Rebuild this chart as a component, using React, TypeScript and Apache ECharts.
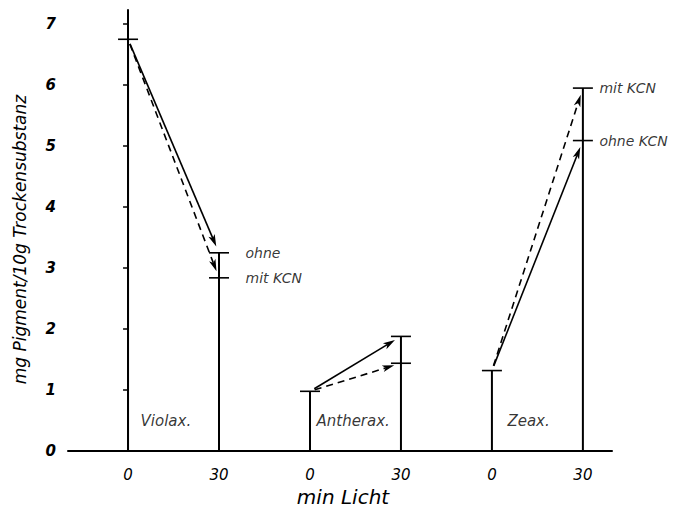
import React, { useEffect, useRef } from "react";
import * as echarts from "echarts";

// x slots: Violax 0/30, Antherax 0/30, Zeax 0/30
const timeLabels = ["0", "30", "0", "30", "0", "30"];
const pigments = ["Violax.", "Antherax.", "Zeax."];
const startValues = [6.75, 0.98, 1.32]; // 0 min Licht
const ohneValues = [3.25, 1.88, 5.09]; // 30 min, ohne KCN (solid arrow)
const kcnValues = [2.84, 1.44, 5.95]; // 30 min, mit KCN (dashed arrow)
const ohneLabels = ["ohne", "", "ohne KCN"];
const kcnLabels = ["mit KCN", "", "mit KCN"];
const yTicks = [0, 1, 2, 3, 4, 5, 6, 7];
const xSlots = [0, 1, 2, 3, 4, 5];

const INK = "#000";
const FONT = "DejaVu Sans";

export default function App() {
  const ref = useRef<HTMLDivElement>(null);

  useEffect(() => {
    if (!ref.current) return;
    const chart = echarts.init(ref.current, null, { renderer: "svg" });

    const stems: number[][] = [];
    const caps: number[][] = [];
    const arrows: number[][] = [];
    pigments.forEach((_, i) => {
      const x0 = 2 * i;
      const x1 = 2 * i + 1;
      stems.push([x0, startValues[i]]);
      stems.push([x1, Math.max(ohneValues[i], kcnValues[i])]);
      caps.push([x0, startValues[i]]);
      caps.push([x1, ohneValues[i]]);
      caps.push([x1, kcnValues[i]]);
      arrows.push([x0, startValues[i], x1, ohneValues[i], 0]);
      arrows.push([x0, startValues[i], x1, kcnValues[i], 1]);
    });

    const nameDist = [12, 6, 15];
    const pigmentLabelData = pigments.map((p, i) => ({
      value: [2 * i, 0.5],
      label: { formatter: p, distance: nameDist[i] },
    }));

    const capLabelDist = [26, 0, 16];
    const capLabelData: any[] = [];
    pigments.forEach((_, i) => {
      if (ohneLabels[i]) {
        capLabelData.push({
          value: [2 * i + 1, ohneValues[i]],
          label: { formatter: ohneLabels[i], distance: capLabelDist[i] },
        });
      }
      if (kcnLabels[i]) {
        capLabelData.push({
          value: [2 * i + 1, kcnValues[i]],
          label: { formatter: kcnLabels[i], distance: capLabelDist[i] },
        });
      }
    });

    const textStyle = {
      fontFamily: FONT,
      fontStyle: "italic" as const,
      color: INK,
    };

    chart.setOption({
      animation: false,
      backgroundColor: "#fff",
      grid: { left: 68, right: 80, top: 10, bottom: 59 },
      xAxis: {
        type: "value",
        min: -0.66,
        max: 5.32,
        name: "min Licht",
        nameLocation: "middle",
        nameGap: 32,
        nameTextStyle: { ...textStyle, fontSize: 20, padding: [0, 0, 0, 6] },
        axisLine: { show: true, lineStyle: { color: INK, width: 2 } },
        axisTick: { show: false },
        splitLine: { show: false },
        axisLabel: {
          customValues: xSlots,
          formatter: (v: number) => timeLabels[Math.round(v)] ?? "",
          margin: 16,
          ...textStyle,
          fontSize: 15,
        },
      },
      yAxis: {
        type: "value",
        min: 0,
        max: 7.23,
        name: "mg Pigment/10g Trockensubstanz",
        nameLocation: "middle",
        nameGap: 40,
        nameTextStyle: { ...textStyle, fontSize: 17, padding: [0, 18, 0, 0] },
        axisLine: { show: true, lineStyle: { color: INK, width: 2 } },
        axisTick: {
          show: true,
          customValues: yTicks,
          length: 5,
          lineStyle: { color: INK, width: 1.5 },
        },
        splitLine: { show: false },
        axisLabel: {
          customValues: yTicks,
          margin: 12,
          ...textStyle,
          fontSize: 15,
          fontWeight: "bold",
        },
      },
      series: [
        {
          type: "custom",
          name: "stems",
          data: stems,
          encode: { x: 0, y: 1 },
          renderItem: (_p: any, api: any) => {
            const x = api.value(0);
            const y = api.value(1);
            const a = api.coord([x, 0]);
            const b = api.coord([x, y]);
            return {
              type: "line",
              shape: { x1: a[0], y1: a[1], x2: b[0], y2: b[1] },
              style: { stroke: INK, lineWidth: 2 },
            };
          },
        },
        {
          type: "custom",
          name: "caps",
          data: caps,
          encode: { x: 0, y: 1 },
          renderItem: (_p: any, api: any) => {
            const p = api.coord([api.value(0), api.value(1)]);
            return {
              type: "line",
              shape: { x1: p[0] - 10, y1: p[1], x2: p[0] + 10, y2: p[1] },
              style: { stroke: INK, lineWidth: 1.6 },
            };
          },
        },
        {
          type: "custom",
          name: "arrows",
          data: arrows,
          encode: { x: [0, 2], y: [1, 3] },
          renderItem: (_p: any, api: any) => {
            const a = api.coord([api.value(0), api.value(1)]);
            const b = api.coord([api.value(2), api.value(3)]);
            const dashed = api.value(4) === 1;
            const dx = b[0] - a[0];
            const dy = b[1] - a[1];
            const len = Math.hypot(dx, dy);
            const ux = dx / len;
            const uy = dy / len;
            const nx = -uy;
            const ny = ux;
            const sx = a[0] + ux * 5;
            const sy = a[1] + uy * 5;
            const tx = b[0] - ux * 7;
            const ty = b[1] - uy * 7;
            const hl = 12;
            const hw = 3.4;
            const bx = tx - ux * hl;
            const by = ty - uy * hl;
            return {
              type: "group",
              children: [
                {
                  type: "line",
                  shape: { x1: sx, y1: sy, x2: bx + ux * 3, y2: by + uy * 3 },
                  style: {
                    stroke: INK,
                    lineWidth: 1.6,
                    lineDash: dashed ? [7, 5] : null,
                  },
                },
                {
                  type: "polygon",
                  shape: {
                    points: [
                      [tx, ty],
                      [bx + nx * hw, by + ny * hw],
                      [bx + ux * 3, by + uy * 3],
                      [bx - nx * hw, by - ny * hw],
                    ],
                  },
                  style: { fill: INK },
                },
              ],
            };
          },
        },
        {
          type: "scatter",
          name: "pigments",
          data: pigmentLabelData,
          symbolSize: 1,
          itemStyle: { color: "transparent" },
          label: {
            show: true,
            position: "right",
            ...textStyle,
            fontSize: 15,
          },
        },
        {
          type: "scatter",
          name: "capLabels",
          data: capLabelData,
          symbolSize: 1,
          itemStyle: { color: "transparent" },
          label: {
            show: true,
            position: "right",
            ...textStyle,
            fontSize: 14,
          },
        },
      ],
    });

    return () => chart.dispose();
  }, []);

  return <div ref={ref} style={{ width: 692, height: 512, position: "absolute", left: 0, top: 0 }} />;
}
